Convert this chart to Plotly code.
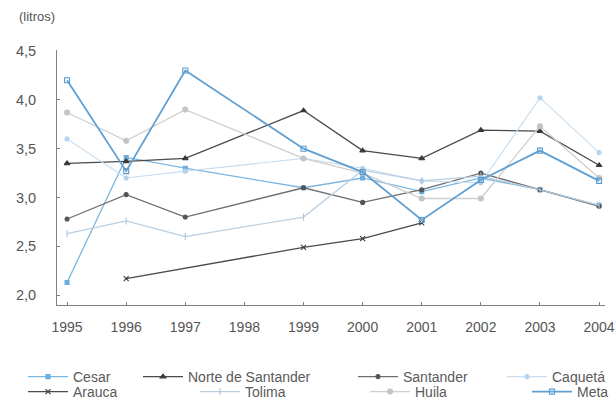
import plotly.graph_objects as go

years = ["1995", "1996", "1997", "1998", "1999", "2000", "2001", "2002", "2003", "2004"]

cesar = [2.13, 3.41, 3.30, None, 3.10, 3.20, 3.06, 3.20, 3.08, 2.92]
norte = [3.35, 3.37, 3.40, None, 3.89, 3.48, 3.40, 3.69, 3.68, 3.33]
santander = [2.78, 3.03, 2.80, None, 3.10, 2.95, 3.08, 3.25, 3.08, 2.91]
caqueta = [3.60, 3.20, 3.27, None, 3.40, 3.30, 3.17, 3.15, 4.02, 3.46]
arauca = [None, 2.17, None, None, 2.49, 2.58, 2.74, None, None, None]
tolima = [2.63, 2.76, 2.60, None, 2.80, 3.28, 3.17, 3.22, 3.08, 2.92]
huila = [3.87, 3.58, 3.90, None, 3.40, 3.25, 2.99, 2.99, 3.73, 3.20]
meta = [4.20, 3.27, 4.30, None, 3.50, 3.26, 2.77, 3.18, 3.48, 3.17]

series = [
    ("Cesar", cesar, "#7db6df", 1.3, "square", 4, "#6aaee0"),
    ("Norte de Santander", norte, "#4a4a4a", 1.3, "triangle-up", 5, "#3a3a3a"),
    ("Santander", santander, "#6e6e6e", 1.3, "circle", 4, "#555555"),
    ("Caquetá", caqueta, "#c9def0", 1.2, "circle", 4, "#b5d3ec"),
    ("Arauca", arauca, "#4a4a4a", 1.3, "x-thin-open", 5, "#3a3a3a"),
    ("Tolima", tolima, "#b9cfe2", 1.2, "line-ns-open", 5, "#a9c3da"),
    ("Huila", huila, "#cfcfcf", 1.3, "circle", 5, "#c4c4c4"),
    ("Meta", meta, "#5f9fd2", 1.8, "square-open", 5, "#5a9bd0"),
]

# legend text start (px) and row for each series
legend_text_px = [73, 188, 403, 552, 73, 245, 415, 577]
legend_row = [0, 0, 0, 0, 1, 1, 1, 1]

L, R, T, B = 57, 11, 50, 102
W, H = 616, 407
pw, ph = W - L - R, H - T - B
row_y_px = [377, 392]

fig = go.Figure()
layout_legends = {}
for i, (name, vals, col, w, sym, size, mcol) in enumerate(series):
    key = "legend" if i == 0 else f"legend{i + 1}"
    fig.add_trace(go.Scatter(
        x=years, y=vals, name=name, mode="lines+markers",
        connectgaps=True, legend=key,
        line=dict(color=col, width=w),
        marker=dict(symbol=sym, size=size, color=mcol,
                    line=dict(color=mcol, width=1.1)),
    ))
    lx = (legend_text_px[i] - 50 - L) / pw
    ly = (T + ph - row_y_px[legend_row[i]]) / ph
    layout_legends[key] = dict(
        orientation="h", x=lx, xanchor="left", y=ly, yanchor="middle",
        font=dict(size=14, color="#5a5a5a"), bgcolor="rgba(0,0,0,0)",
        itemwidth=40,
    )

fig.update_layout(
    width=W, height=H,
    paper_bgcolor="white", plot_bgcolor="white",
    margin=dict(l=L, r=R, t=T, b=B, autoexpand=False),
    separators=", ",
    font=dict(family="Liberation Sans, Arial, sans-serif", size=12, color="#555555"),
    showlegend=True,
    annotations=[dict(text="(litros)", xref="paper", yref="paper",
                      x=(17 - L) / pw, y=(T + ph - 16) / ph, xanchor="left", yanchor="middle",
                      showarrow=False, font=dict(size=13, color="#555555"))],
    **layout_legends,
)
fig.update_xaxes(
    type="category", categoryorder="array", categoryarray=years,
    range=[-0.17, 9.1], showgrid=False, zeroline=False,
    showline=True, linecolor="#808080", linewidth=1,
    ticks="inside", ticklen=3, tickcolor="#808080",
    ticklabelstandoff=9, tickfont=dict(size=14, color="#555555"),
)
fig.update_yaxes(
    range=[1.9, 4.51], tickvals=[2.0, 2.5, 3.0, 3.5, 4.0, 4.5],
    tickformat=".1f", showgrid=False, zeroline=False,
    showline=True, linecolor="#808080", linewidth=1,
    ticks="inside", ticklen=3, tickcolor="#808080",
    ticklabelstandoff=17, tickfont=dict(size=14.5, color="#555555"),
)

fig.write_html("out.html", config={"displayModeBar": False},
               post_script="document.body.style.margin='0';")
